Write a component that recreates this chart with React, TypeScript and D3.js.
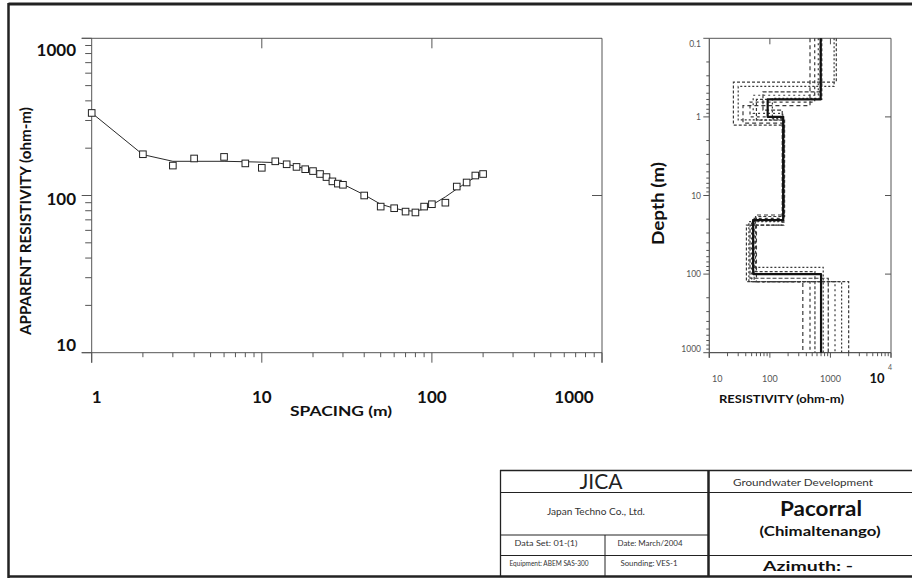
import React from 'react';
import * as d3 from 'd3';

// ---------- Data ----------
const spacing = [1, 2, 3, 4, 6, 8, 10, 12, 14, 16, 18, 20, 22, 24, 26, 28, 30, 40, 50, 60, 70, 80, 90, 100, 120, 140, 160, 180, 200];
const observed = [335, 183, 155, 172, 176, 160, 150, 165, 158, 152, 147, 143, 137, 131, 123, 119, 117, 100, 85, 83, 79, 78, 85, 88, 90, 114, 121, 134, 137];
const fitted = [335, 182, 165, 165, 165, 164, 163, 162, 158, 153, 148, 143, 138, 132, 127, 122, 118, 101, 88, 83, 80, 79.5, 82, 87, 98, 110, 121, 131, 139];

const xTickLabels = ['1', '10', '100', '1000'];
const yTickLabels = ['10', '100', '1000'];

const bestRho = [690, 92, 166, 53, 700];
const bestDepth = [0.6, 1.0, 20.5, 100];

const equivRho = [
  [1250, 25, 170, 41, 2000],
  [1150, 30, 165, 45, 1530],
  [460, 36, 172, 60, 350],
  [550, 47, 168, 55, 460],
  [630, 53, 163, 50, 1190],
  [700, 77, 160, 47, 920],
  [720, 60, 175, 58, 555],
  [680, 110, 166, 52, 760],
];
const equivDepth = [
  [0.36, 1.27, 23.8, 125],
  [0.41, 1.09, 21.5, 125],
  [0.72, 1.2, 17.7, 125],
  [0.65, 1.0, 19.5, 125],
  [0.53, 0.9, 20.5, 125],
  [0.48, 0.82, 23.8, 113],
  [0.6, 1.1, 18.5, 93],
  [0.58, 1.05, 21, 82],
];

const resTickLabels = ['10', '100', '1000'];
const depthTickLabels = ['0.1', '1', '10', '100', '1000'];

const FONT = "Lato, 'DejaVu Sans', sans-serif";

function stepPoints(rho: number[], depth: number[], top: number, bottom: number): [number, number][] {
  const pts: [number, number][] = [];
  pts.push([rho[0], top]);
  for (let i = 0; i < depth.length; i++) {
    pts.push([rho[i], depth[i]]);
    pts.push([rho[i + 1], depth[i]]);
  }
  pts.push([rho[rho.length - 1], bottom]);
  return pts;
}

export default function App() {
  const L = { x0: 91.7, x1: 602, y0: 38.3, y1: 352.7 };
  const xs = d3.scaleLog().domain([1, 1000]).range([L.x0, L.x1]);
  const ys = d3.scaleLog().domain([10, 1000]).range([L.y1, L.y0]);
  const isMajor = (v: number) => Math.abs(Math.log10(v) - Math.round(Math.log10(v))) < 1e-9;

  const fitLine = d3.line<number>()
    .x((_, i) => xs(spacing[i]))
    .y((d) => ys(d))(fitted) || '';

  const R = { x0: 709.3, x1: 891, y0: 38.3, y1: 352.7 };
  const rx = d3.scaleLog().domain([10, 10000]).range([R.x0, R.x1]);
  const ry = d3.scaleLog().domain([0.1, 1000]).range([R.y0, R.y1]);
  const modelLine = d3.line<[number, number]>().x((d) => rx(d[0])).y((d) => ry(d[1]));

  const axisCol = '#555';
  const dashes = ['3,2', '2,2', '4,3', '3,3', '2,3', '4,2', '3,2', '2,2'];

  return (
    <svg width={912} height={580} style={{ position: 'absolute', left: 0, top: 0, background: '#fff' }} fontFamily={FONT}>
      <rect x={0} y={0} width={912} height={580} fill="#fff" />
      <line x1={8.5} y1={4} x2={912} y2={4} stroke="#222" strokeWidth={3} />
      <line x1={8.5} y1={3} x2={8.5} y2={578} stroke="#222" strokeWidth={2.5} />
      <line x1={8} y1={576.5} x2={912} y2={576.5} stroke="#222" strokeWidth={2.5} />

      {/* ---------- Left chart ---------- */}
      <g>
        <line x1={L.x0 - 10} y1={L.y0} x2={L.x1} y2={L.y0} stroke={axisCol} strokeWidth={1} />
        <line x1={L.x0 - 10} y1={L.y1} x2={L.x1} y2={L.y1} stroke={axisCol} strokeWidth={1} />
        <line x1={L.x0} y1={L.y0} x2={L.x0} y2={L.y1 + 10} stroke={axisCol} strokeWidth={1} />
        <line x1={L.x1} y1={L.y0} x2={L.x1} y2={L.y1 + 10} stroke={axisCol} strokeWidth={1} />
        {ys.ticks().map((v, i) => (
          <line key={'yt' + i} x1={L.x0 - (isMajor(v) ? 10 : 6.5)} x2={L.x0} y1={ys(v)} y2={ys(v)} stroke={axisCol} strokeWidth={1} />
        ))}
        {xs.ticks().map((v, i) => (
          <line key={'xt' + i} x1={xs(v)} x2={xs(v)} y1={L.y1} y2={L.y1 + (isMajor(v) ? 10 : 4.5)} stroke={axisCol} strokeWidth={1} />
        ))}
        {[10, 100].map((v) => (
          <line key={'tt' + v} x1={xs(v)} x2={xs(v)} y1={L.y0} y2={L.y0 + 10} stroke={axisCol} strokeWidth={1} />
        ))}
        <line x1={L.x1 - 10} x2={L.x1} y1={ys(100)} y2={ys(100)} stroke={axisCol} strokeWidth={1} />

        {yTickLabels.map((t) => {
          const v = +t;
          const y = Math.min(Math.max(ys(v) + 3, L.y0 + 12), L.y1 - 8);
          return (
            <text key={'yl' + t} x={76} y={y + 6} textAnchor="end" fontSize={17} fontWeight="bold" fill="#111">{t}</text>
          );
        })}
        {xTickLabels.map((t) => {
          const v = +t;
          const x = Math.min(Math.max(xs(v), L.x0 + 5), L.x1 - 28);
          return (
            <text key={'xl' + t} x={x} y={403} textAnchor="middle" fontSize={17} fontWeight="bold" fill="#111">{t}</text>
          );
        })}
        <text x={341} y={416} textAnchor="middle" fontSize={13} fontWeight="bold" fill="#111" textLength={102} lengthAdjust="spacingAndGlyphs">SPACING (m)</text>
        <text transform="translate(31,221) rotate(-90)" textAnchor="middle" fontSize={14.5} fontWeight="bold" fill="#111" textLength={228} lengthAdjust="spacingAndGlyphs">APPARENT RESISTIVITY (ohm-m)</text>

        <path d={fitLine} fill="none" stroke="#111" strokeWidth={0.9} />
        {spacing.map((s, i) => (
          <rect key={'p' + i} x={xs(s) - 3.3} y={ys(observed[i]) - 3.3} width={6.6} height={6.6} fill="#fff" stroke="#222" strokeWidth={1} />
        ))}
      </g>

      {/* ---------- Right chart ---------- */}
      <g>
        <line x1={R.x0} y1={R.y0} x2={R.x1} y2={R.y0} stroke={axisCol} strokeWidth={1} />
        <line x1={R.x0} y1={R.y1} x2={R.x1} y2={R.y1} stroke={axisCol} strokeWidth={1.2} />
        <line x1={R.x0} y1={R.y0} x2={R.x0} y2={R.y1 + 5} stroke={axisCol} strokeWidth={1.2} />
        <line x1={R.x1} y1={R.y0} x2={R.x1} y2={R.y1 + 5} stroke={axisCol} strokeWidth={1} />
        {ry.ticks().map((v, i) => (
          <line key={'ryt' + i} x1={R.x0 - (isMajor(v) ? 6 : 3)} x2={R.x0} y1={ry(v)} y2={ry(v)} stroke={axisCol} strokeWidth={1} />
        ))}
        {rx.ticks().map((v, i) => (
          <line key={'rxt' + i} x1={rx(v)} x2={rx(v)} y1={R.y1} y2={R.y1 + (isMajor(v) ? 5 : 3.5)} stroke={axisCol} strokeWidth={1} />
        ))}
        {[100, 1000].map((v) => (
          <line key={'rtt' + v} x1={rx(v)} x2={rx(v)} y1={R.y0} y2={R.y0 + 6} stroke={axisCol} strokeWidth={1} />
        ))}
        {[1, 10, 100].map((v) => (
          <line key={'rrt' + v} x1={R.x1 - 6} x2={R.x1} y1={ry(v)} y2={ry(v)} stroke={axisCol} strokeWidth={1} />
        ))}

        {depthTickLabels.map((t) => {
          const v = +t;
          const y = Math.min(Math.max(ry(v), R.y0 + 6), R.y1 - 4);
          return (
            <text key={'dl' + t} x={701} y={y + 3} textAnchor="end" fontSize={8.5} fill="#555">{t}</text>
          );
        })}
        {resTickLabels.map((t) => {
          const v = +t;
          const x = Math.max(rx(v), R.x0 + 8);
          return (
            <text key={'rl' + t} x={x} y={382} textAnchor="middle" fontSize={9} fill="#555">{t}</text>
          );
        })}
        <text x={rx(10000) - 14} y={383} textAnchor="middle" fontSize={13} fontWeight="bold" fill="#111">10</text>
        <text x={rx(10000) - 1} y={370} textAnchor="middle" fontSize={7} fill="#555">4</text>

        <text x={781.5} y={403} textAnchor="middle" fontSize={11.5} fontWeight="bold" fill="#111" textLength={125} lengthAdjust="spacingAndGlyphs">RESISTIVITY (ohm-m)</text>
        <text transform="translate(664,203.5) rotate(-90)" textAnchor="middle" fontSize={17} fontWeight="bold" fill="#111" textLength={83} lengthAdjust="spacingAndGlyphs">Depth (m)</text>

        {equivRho.map((rho, i) => (
          <path key={'eq' + i} d={modelLine(stepPoints(rho, equivDepth[i], 0.1, 1000)) || ''} fill="none" stroke="#3a3a3a" strokeWidth={1.2} strokeDasharray={dashes[i % dashes.length]} />
        ))}
        <path d={modelLine(stepPoints(bestRho, bestDepth, 0.1, 1000)) || ''} fill="none" stroke="#111" strokeWidth={2.2} strokeLinejoin="round" />
      </g>

      {/* ---------- Title block ---------- */}
      <g fill="#222">
        <line x1={500} y1={470.5} x2={912} y2={470.5} stroke="#222" strokeWidth={1.3} />
        <line x1={500.5} y1={470} x2={500.5} y2={577} stroke="#222" strokeWidth={1.3} />
        <line x1={708.5} y1={470} x2={708.5} y2={577} stroke="#222" strokeWidth={2.5} />
        <line x1={500} y1={492.5} x2={912} y2={492.5} stroke="#222" strokeWidth={1} />
        <line x1={500} y1={535} x2={708} y2={535} stroke="#222" strokeWidth={1} />
        <line x1={500} y1={555.5} x2={912} y2={555.5} stroke="#222" strokeWidth={1} />
        <line x1={605} y1={535} x2={605} y2={577} stroke="#222" strokeWidth={1} />

        <text x={601} y={489} textAnchor="middle" fontSize={21} fontWeight={400} fill="#222">JICA</text>
        <text x={596} y={515} textAnchor="middle" fontSize={9.5} fill="#333" textLength={98} lengthAdjust="spacingAndGlyphs">Japan Techno Co., Ltd.</text>
        <text x={546} y={545.5} textAnchor="middle" fontSize={8} fill="#333" textLength={63} lengthAdjust="spacingAndGlyphs">Data Set: 01-(1)</text>
        <text x={650} y={545.5} textAnchor="middle" fontSize={8} fill="#333" textLength={65} lengthAdjust="spacingAndGlyphs">Date: March/2004</text>
        <text x={549} y={565.5} textAnchor="middle" fontSize={7} fill="#333" textLength={79} lengthAdjust="spacingAndGlyphs">Equipment: ABEM SAS-300</text>
        <text x={649} y={565.5} textAnchor="middle" fontSize={8} fill="#333" textLength={57} lengthAdjust="spacingAndGlyphs">Sounding: VES-1</text>

        <text x={803} y={485.5} textAnchor="middle" fontSize={10} fill="#333" textLength={140} lengthAdjust="spacingAndGlyphs">Groundwater Development</text>
        <text x={821} y={516} textAnchor="middle" fontSize={21} fontWeight="bold" fill="#111" textLength={82} lengthAdjust="spacingAndGlyphs">Pacorral</text>
        <text x={820} y={536} textAnchor="middle" fontSize={13} fontWeight="bold" fill="#111" textLength={121} lengthAdjust="spacingAndGlyphs">(Chimaltenango)</text>
        <text x={808} y={571} textAnchor="middle" fontSize={13} fontWeight="bold" fill="#111" textLength={90} lengthAdjust="spacingAndGlyphs">Azimuth: -</text>
      </g>
    </svg>
  );
}
